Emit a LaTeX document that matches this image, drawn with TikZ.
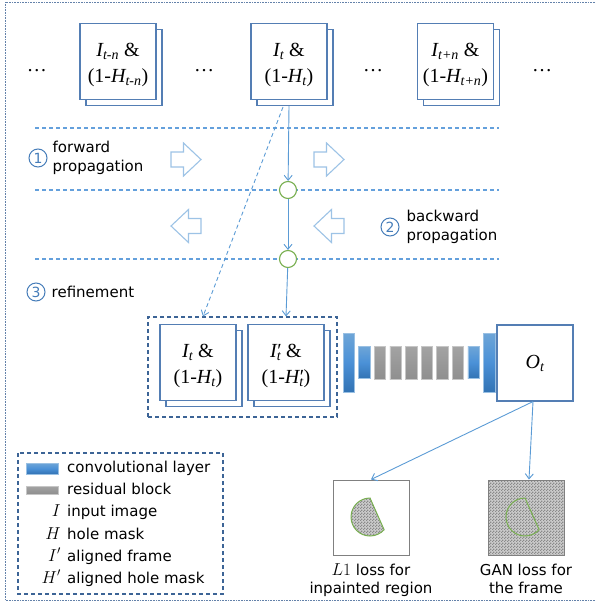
\documentclass[tikz,border=0pt]{standalone}
\usepackage[no-math]{fontspec}
\setmainfont{DejaVu Sans}
\newfontfamily\serif{Liberation Serif}
\usepackage{xcolor}
\definecolor{frameblue}{RGB}{84,126,180}
\definecolor{dashblue}{RGB}{100,160,220}
\definecolor{flowblue}{RGB}{91,155,213}
\definecolor{paleblue}{RGB}{157,195,230}
\definecolor{ringgreen}{RGB}{120,175,80}
\definecolor{numblue}{RGB}{70,125,185}
\definecolor{borderblue}{RGB}{100,130,170}
\definecolor{bundleblue}{RGB}{60,100,150}
\definecolor{convtop}{RGB}{110,165,215}
\definecolor{convmid}{RGB}{75,145,215}
\definecolor{convbot}{RGB}{50,115,180}
\usepackage{tikz}
\usetikzlibrary{arrows.meta,positioning,shadows,patterns}
% small checker used for the image fills
\pgfdeclarepatternformonly{finecheck}{\pgfpointorigin}{\pgfqpoint{3pt}{3pt}}{\pgfqpoint{3pt}{3pt}}{
  \pgfpathrectangle{\pgfpointorigin}{\pgfqpoint{1.5pt}{1.5pt}}
  \pgfpathrectangle{\pgfqpoint{1.5pt}{1.5pt}}{\pgfqpoint{1.5pt}{1.5pt}}
  \pgfusepath{fill}}
\newcommand{\tallline}{\rule{0pt}{21pt}}
\tikzset{
  >={Straight Barb[length=5pt,width=8pt]},
  outline/.style={draw=borderblue,line width=0.8pt,dash pattern=on 0.8pt off 0.8pt},
  imgbox/.style={rectangle,draw=frameblue,line width=1.1pt,fill=white,minimum width=76pt,minimum height=76pt,inner sep=0pt,align=center,font=\serif\fontsize{20}{26}\selectfont},
  imgstack/.style={imgbox,copy shadow={shadow xshift=6pt,shadow yshift=-6pt,draw=frameblue,fill=white,line width=1.1pt}},
  ellip/.style={inner sep=0pt,font=\serif\fontsize{20}{20}\selectfont},
  band/.style={draw=dashblue,line width=1.1pt,dash pattern=on 4pt off 3pt},
  hollow/.style={draw=paleblue,line width=1.1pt,fill=white},
  numring/.style={circle,draw=numblue,line width=1pt,minimum size=18pt,inner sep=0pt,text=numblue,font=\fontsize{14}{14}\selectfont},
  note/.style={inner sep=0pt,align=left,font=\fontsize{15}{19}\selectfont},
  joint/.style={circle,draw=ringgreen,line width=1.1pt,fill=white,minimum size=17pt,inner sep=0pt},
  flow/.style={draw=flowblue,line width=0.9pt},
  bundle/.style={rectangle,draw=bundleblue,line width=1.1pt,dash pattern=on 4pt off 3pt,minimum width=189pt,minimum height=100pt,inner sep=0pt},
  convbar/.style={rectangle,inner sep=0pt,minimum width=11.5pt,draw=convtop!70!white,line width=0.5pt,top color=convtop,bottom color=convbot,middle color=convmid},
  tallbar/.style={convbar,minimum height=59pt},
  shortbar/.style={convbar,minimum height=32pt},
  resbar/.style={rectangle,inner sep=0pt,minimum width=11.5pt,minimum height=33pt,draw=gray!45,line width=0.5pt,top color=gray!72,bottom color=gray!88},
  checker/.style={preaction={fill=gray!40},pattern=finecheck,pattern color=gray!92},
  lossbox/.style={rectangle,draw=gray,line width=1pt,minimum width=76pt,minimum height=75pt,inner sep=0pt},
  hole/.style={draw=ringgreen,line width=1pt},
  losstext/.style={inner sep=0pt,align=center,font=\fontsize{15}{18}\selectfont},
  keytext/.style={anchor=west,inner sep=0pt,text height=11pt,text depth=3pt,font=\fontsize{15}{15}\selectfont},
  keysym/.style={anchor=east,inner sep=0pt,text height=11pt,text depth=3pt,font=\fontsize{17}{17}\selectfont}
}

\begin{document}
\begin{tikzpicture}[x=1pt,y=-1pt]
  \useasboundingbox (0,0) rectangle (596,611);
  \draw[outline] (600,2) -- (5,2) -- (5,600) -- (600,600);

  % Input frames
  \node[imgstack] (prev) at (118,61.5) {\tallline{\itshape I}\textsubscript{\itshape t-n} \&\\(1-{\itshape H}\textsubscript{\itshape t-n})};
  \node[imgstack] (cur) at (289,61.5) {\tallline{\itshape I}\textsubscript{\itshape t} \&\\(1-{\itshape H}\textsubscript{\itshape t})};
  \node[imgstack] (next) at (455.5,61.5) {\tallline{\itshape I}\textsubscript{\itshape t+n} \&\\(1-{\itshape H}\textsubscript{\itshape t+n})};
  \node[ellip] (dotsa) at (37,71) {…};
  \node[ellip] (dotsb) at (204,71) {…};
  \node[ellip] (dotsc) at (373,71) {…};
  \node[ellip] (dotsd) at (542,71) {…};

  % Propagation bands
  \draw[band] (35,128) -- (499,128);
  \draw[band] (35,190) -- (499,190);
  \draw[band] (35,259) -- (499,259);
  \draw[hollow,shift={(171,159.5)}] (0,-7.5) -- (12.5,-7.5) -- (12.5,-16.5) -- (30,0) -- (12.5,16.5) -- (12.5,7.5) -- (0,7.5) -- cycle;
  \draw[hollow,shift={(314,159.5)}] (0,-7.5) -- (12.5,-7.5) -- (12.5,-16.5) -- (30,0) -- (12.5,16.5) -- (12.5,7.5) -- (0,7.5) -- cycle;
  \draw[hollow,shift={(201,226)},xscale=-1] (0,-7.5) -- (12.5,-7.5) -- (12.5,-16.5) -- (30,0) -- (12.5,16.5) -- (12.5,7.5) -- (0,7.5) -- cycle;
  \draw[hollow,shift={(344,226)},xscale=-1] (0,-7.5) -- (12.5,-7.5) -- (12.5,-16.5) -- (30,0) -- (12.5,16.5) -- (12.5,7.5) -- (0,7.5) -- cycle;

  % Steps
  \node[numring] (n1) at (38,158) {1};
  \node[note,right=5pt of n1] (fwdtxt) {forward\\propagation};
  \node[numring] (n2) at (390,227) {2};
  \node[note,right=7pt of n2] (bwdtxt) {backward\\propagation};
  \node[numring] (n3) at (36,292) {3};
  \node[note,right=6pt of n3] (reftxt) {refinement};

  \node[joint] (j1) at (288,190) {};
  \node[joint] (j2) at (288,259) {};

  % Refinement input
  \node[bundle] (inbox) at (242.5,367) {};
  \node[imgstack] (orig) at (198,362.5) {\tallline{\itshape I}\textsubscript{\itshape t} \&\\(1-{\itshape H}\textsubscript{\itshape t})};
  \node[imgstack] (warp) at (286,362.5) {\tallline{\itshape I}\rlap{\kern0.5pt′}\textsubscript{\itshape t} \&\\(1-{\itshape H}\rlap{\kern0.5pt′}\textsubscript{\itshape t})};
  \coordinate (origtip) at ([xshift=5pt]orig.north);

  % Network
  \node[tallbar] (conva) at (348.75,362.5) {};
  \node[shortbar,right=3.6pt of conva] (convb) {};
  \node[resbar,right=3.6pt of convb] (resa) {};
  \node[resbar,right=3.6pt of resa] (resb) {};
  \node[resbar,right=3.6pt of resb] (resc) {};
  \node[resbar,right=3.6pt of resc] (resd) {};
  \node[resbar,right=3.6pt of resd] (rese) {};
  \node[resbar,right=3.6pt of rese] (resf) {};
  \node[shortbar,right=3.6pt of resf] (convc) {};
  \node[tallbar,right=3.6pt of convc] (convd) {};
  \node[imgbox] (out) at (535,363) {{\itshape O}\textsubscript{\itshape t}};

  % Losses
  \node[lossbox] (lone) at (371,517.5) {};
  \node[lossbox,checker] (gan) at (526,517.5) {};
  \draw[hole,checker] ([shift={(-1,-19.5)}]lone.center) arc[start angle=270,end angle=42,radius=19] -- cycle;
  \draw[hole] ([shift={(-1,-19.5)}]gan.center) arc[start angle=270,end angle=42,radius=19] -- cycle;
  \node[losstext,below=8pt of lone] (lonetxt) {{\fontsize{17}{18}\selectfont$L1$} loss for\\inpainted region};
  \node[losstext,below=8pt of gan] (gantxt) {GAN loss for\\the frame};

  % Arrows
  \draw[flow,->] ([yshift=-6pt]cur.south) -- (j1);
  \draw[flow,->] (j1) -- (j2);
  \draw[flow,->] (j2) -- (warp.north |- inbox.north);
  \draw[flow,->,dash pattern=on 4pt off 3pt] ([shift={(-6pt,-7pt)}]cur.south) -- (origtip |- inbox.north);
  \draw[flow,->] ([xshift=-2pt]out.south) -- (lone.north);
  \draw[flow,->] ([xshift=-2pt]out.south) -- ([xshift=3pt]gan.north);

  % Legend
  \draw[bundleblue,line width=1.1pt,dash pattern=on 4pt off 3pt] (18,453) rectangle (223,594);
  \node[convbar,minimum width=32pt,minimum height=11pt] (keyconv) at (42,468.5) {};
  \node[resbar,minimum width=32pt,minimum height=8pt] (keyres) at (42,490) {};
  \node[keysym] (keyi) at (61,512) {$I$};
  \node[keysym] (keyh) at (61,535) {$H$};
  \node[keysym] (keyip) at (61,557) {$I'$};
  \node[keysym] (keyhp) at (61,579) {$H'$};
  \node[keytext] (tconv) at (67,468) {convolutional layer};
  \node[keytext] (tres) at (67,490) {residual block};
  \node[keytext] (ti) at (67,512) {input image};
  \node[keytext] (th) at (67,535) {hole mask};
  \node[keytext] (tip) at (67,557) {aligned frame};
  \node[keytext] (thp) at (67,579) {aligned hole mask};
\end{tikzpicture}
\end{document}
